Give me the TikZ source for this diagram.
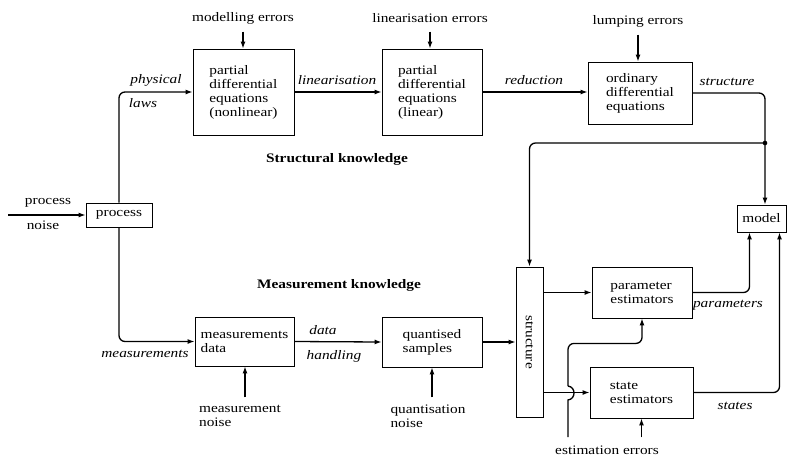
\documentclass[tikz,border=0pt]{standalone}
\usepackage{fontspec}
\setmainfont{Liberation Serif}[FakeStretch=1.18]
\usetikzlibrary{arrows.meta,calc}
\begin{document}
\begin{tikzpicture}[x=1pt,y=-1pt,
  font=\fontsize{13}{14}\selectfont,
  blk/.style={draw,line width=0.8pt,rectangle,inner sep=2pt,align=left,anchor=center},
  conn/.style={line width=1.3pt},
  arr/.style={conn,-{Latex[length=7pt,width=5pt]}},
  lab/.style={inner sep=0pt,anchor=center},
  ilab/.style={lab,font=\fontsize{13}{14}\selectfont\itshape},
  blab/.style={lab,font=\fontsize{13}{14}\selectfont\bfseries}]
\useasboundingbox (0,0) rectangle (787,459);
% boxes
\node[blk,minimum width=101pt,minimum height=86pt] (pde1) at (243.5,92) {partial\\differential\\equations\\(nonlinear)};
\node[blk,minimum width=100pt,minimum height=86pt] (pde2) at (432,92) {partial\\differential\\equations\\(linear)};
\node[blk,minimum width=104pt,minimum height=62pt] (ode) at (640,93) {ordinary\\differential\\equations};
\node[blk,minimum width=66pt,minimum height=24pt] (proc) at (119,215) {process};
\node[blk,minimum width=49pt,minimum height=27pt] (model) at (761.5,218.5) {model};
\node[blk,minimum width=99pt,minimum height=49pt] (meas) at (244.5,341.5) {measurements\\data};
\node[blk,minimum width=100pt,minimum height=50pt] (quant) at (432,342) {quantised\\samples};
\node[blk,minimum width=27pt,minimum height=150pt] (struct) at (529.5,342) {};
\node[lab,rotate=-90] (structtxt) at (struct.center) {structure};
\node[blk,minimum width=100pt,minimum height=51pt] (param) at (642,292.5) {parameter\\estimators};
\node[blk,minimum width=103pt,minimum height=51pt] (state) at (641.5,392.5) {state\\estimators};
% free texts
\node[lab] (mod) at (243,18) {modelling errors};
\node[lab] (lin) at (430,18) {linearisation errors};
\node[lab] (lump) at (638,21) {lumping errors};
\node[lab,align=left] (mnoise) at (240,415.5) {measurement\\noise};
\node[lab,align=left] (qnoise) at (428,416.5) {quantisation\\noise};
\node[lab] (est) at (607,450) {estimation errors};
\node[lab] (pn1) at (48,203) {process};
\node[lab] (pn2) at (43,225) {noise};
\node[blab] (sk) at (337,159) {Structural knowledge};
\node[blab] (mk) at (339,285) {Measurement knowledge};
\node[ilab] (phys) at (156,80) {physical};
\node[ilab] (laws) at (143,103) {laws};
\node[ilab] (linz) at (337,80) {linearisation};
\node[ilab] (red) at (534,80) {reduction};
\node[ilab] (strl) at (727,82) {structure};
\node[ilab] (measl) at (145,354) {measurements};
\node[ilab] (dat) at (323,330) {data};
\node[ilab] (hand) at (334,356) {handling};
\node[ilab] (parl) at (728,305) {parameters};
\node[ilab] (stl) at (735,406) {states};
% coordinates
\coordinate (pin) at (8,215);
\coordinate (j) at (765,143);
\coordinate (eb) at (568,437);
\coordinate (h1) at (568,400);
\coordinate (h2) at (568,386);
% connectors
\draw[arr] (pin) -- (proc.west);
\draw[arr,rounded corners=6pt] (proc.north) |- (pde1.west);
\draw[arr,rounded corners=6pt] (proc.south) |- (meas.west);
\draw[arr] (pde1.east) -- (pde2.west);
\draw[arr] (pde2.east) -- (pde2.east -| ode.west);
\draw[arr,rounded corners=6pt] (ode.east) -| (j |- model.north);
\fill (j) circle (2.3pt);
\draw[arr,rounded corners=6pt] (j) -| (struct.north);
\draw[arr] (meas.east) -- (quant.west);
\draw[arr] (quant.east) -- (quant.east -| struct.west);
\draw[arr] (struct.east |- param.west) -- (param.west);
\draw[arr] (struct.east |- state.west) -- (state.west);
\draw[conn] (eb) -- (h1) .. controls ($(h1)+(8,-1)$) and ($(h2)+(8,1)$) .. (h2);
\draw[arr,rounded corners=6pt] (h2) |- ($(param.south)+(0,25)$) -- (param.south);
\draw[arr] ($(state.south)+(0,19)$) -- (state.south);
\draw[arr,rounded corners=6pt] (param.east) -| ($(model.south)+(-12,0)$);
\draw[arr,rounded corners=6pt] (state.east) -| ($(model.south)+(18,0)$);
\draw[arr] ($(pde1.north)+(-0.5,-17)$) -- ($(pde1.north)+(-0.5,0)$);
\draw[arr] ($(pde2.north)+(-2,-17)$) -- ($(pde2.north)+(-2,0)$);
\draw[arr] ($(ode.north)+(-2,-27)$) -- ($(ode.north)+(-2,0)$);
\draw[arr] ($(meas.south)+(0.5,31)$) -- ($(meas.south)+(0.5,0)$);
\draw[arr] ($(quant.south)+(0,30)$) -- (quant.south);
\end{tikzpicture}
\end{document}
